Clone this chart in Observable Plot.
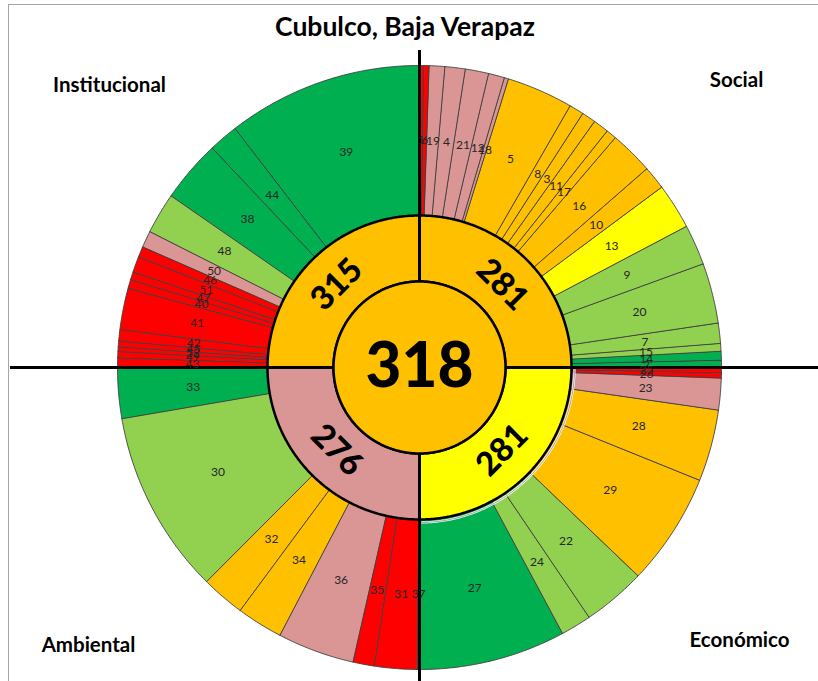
<!DOCTYPE html>
<html><head><meta charset="utf-8">
<script src="https://cdn.jsdelivr.net/npm/d3@7"></script>
<script src="https://cdn.jsdelivr.net/npm/@observablehq/plot@0.6"></script>
<style>
body{margin:0;background:#fff;overflow:hidden}
#wrap{position:relative;width:818px;height:681px;overflow:hidden;background:#fff}
#frame{position:absolute;left:8px;top:4px;width:1000px;height:1000px;border-left:1.5px solid #a6a6a6;border-top:1.5px solid #a6a6a6}
#title{position:absolute;left:0;top:10px;width:810px;text-align:center;font:bold 26.5px Lato, sans-serif;color:#000;line-height:32px}
#chart{position:absolute;left:0;top:50px}
</style></head><body>
<div id="wrap"><div id="frame"></div><div id="title">Cubulco, Baja Verapaz</div><div id="chart"></div></div>
<script>
// ---- data ----
const dimensions = ["Social", "Económico", "Ambiental", "Institucional"];
const dimensionScores = [281, 281, 276, 315];
const dimensionLevels = ["medio", "medio-alto", "bajo", "medio"];
const totalScore = 318;
const totalLevel = "medio";

const levels = ["muy bajo", "bajo", "medio", "medio-alto", "alto", "muy alto"];
const levelColors = ["#FF0000", "#DA9694", "#FFC000", "#FFFF00", "#92D050", "#00B050"];

// indicators, clockwise from the top (Social, Económico, Ambiental, Institucional)
const indicatorIds = [
  1, 6, 19, 4, 21, 12, 18, 5, 8, 3, 11, 17, 16, 10, 13, 9, 20, 7, 15, 14, 2,
  25, 26, 23, 28, 29, 22, 24, 27,
  37, 31, 35, 36, 34, 32, 30, 33,
  43, 49, 52, 45, 42, 41, 40, 47, 51, 46, 50, 48, 38, 44, 39
];
// angular width of each indicator's wedge (degrees)
const indicatorSpans = [
  0.9, 1.0, 3.0, 3.9, 4.5, 3.1, 0.8, 12.8, 2.8, 2.7, 3.0, 2.0, 8.4, 4.5, 8.8, 7.8, 11.6, 3.9, 1.5, 1.7, 1.3,
  1.1, 1.0, 6.1, 13.8, 21.7, 12.2, 5.9, 28.2,
  0.5, 8.2, 4.1, 14.8, 8.9, 8.4, 35.4, 9.7,
  1.9, 1.2, 0.9, 1.1, 2.2, 8.0, 1.7, 1.5, 3.1, 2.0, 3.2, 7.9, 12.0, 5.7, 37.6
];
const R = "muy bajo", P = "bajo", O = "medio", Y = "medio-alto", L = "alto", G = "muy alto";
const indicatorLevels = [
  R, R, P, P, P, P, P, O, O, O, O, O, O, O, Y, L, L, L, L, G, G,
  R, R, P, O, O, L, L, G,
  R, R, R, P, O, O, L, G,
  R, R, R, R, R, R, R, R, R, R, P, L, G, G, G
];

// ---- layout (relative to outer radius = 1) ----
const PX = 302, CX = 419, CY = 317, W = 818, H = 631;
const rOuter = 1, rMid = 152 / PX, rCore = 86 / PX, rLabel = 227 / PX, rDim = 117 / PX;
const rad = a => a * Math.PI / 180;

function arcPoly(id, level, a0, a1, r0, r1) {
  const n = Math.max(2, Math.ceil((a1 - a0) / 0.4));
  const pts = [];
  for (let i = 0; i <= n; i++) { const a = rad(a0 + (a1 - a0) * i / n); pts.push({id, level, x: r1 * Math.sin(a), y: r1 * Math.cos(a)}); }
  if (r0 > 0) for (let i = n; i >= 0; i--) { const a = rad(a0 + (a1 - a0) * i / n); pts.push({id, level, x: r0 * Math.sin(a), y: r0 * Math.cos(a)}); }
  return pts;
}

const ends = Array.from(d3.cumsum(indicatorSpans));
const indicators = indicatorIds.map((id, i) => ({
  id, level: indicatorLevels[i], a0: ends[i] - indicatorSpans[i], a1: ends[i]
}));
const outerPts = indicators.flatMap(d => arcPoly(d.id, d.level, d.a0, d.a1, rMid, rOuter));
const dims = dimensions.map((name, i) => ({name, score: dimensionScores[i], level: dimensionLevels[i], a0: i * 90, a1: i * 90 + 90}));
const midPts = dims.flatMap(d => arcPoly(d.name, d.level, d.a0, d.a1, rCore, rMid));
const corePts = arcPoly("core", totalLevel, 0, 360, 0, rCore);
const gapArc = arcPoly("gap", null, 90, 180, 0, 155 / PX);

const rot = a => a < 90 ? a : a < 270 ? a - 180 : a - 360;

const chart = Plot.plot({
  width: W, height: H, margin: 0,
  x: {domain: [-CX / PX, (W - CX) / PX], axis: null},
  y: {domain: [-(H - CY) / PX, CY / PX], axis: null},
  color: {domain: levels, range: levelColors},
  style: {fontFamily: "Lato, sans-serif", background: "transparent"},
  marks: [
    Plot.line(outerPts, {x: "x", y: "y", z: "id", fill: "level", stroke: "#404040", strokeWidth: 0.9, curve: "linear-closed"}),
    Plot.line(gapArc, {x: "x", y: "y", stroke: "white", strokeWidth: 2.2}),
    Plot.line(gapArc, {x: "x", y: "y", stroke: "#7f7f7f", strokeWidth: 0.8, dy: 0}),
    Plot.line(midPts, {x: "x", y: "y", z: "id", fill: "level", stroke: "black", strokeWidth: 2.5, curve: "linear-closed"}),
    Plot.ruleX([0], {y1: CY / PX, y2: -(H - CY) / PX, stroke: "black", strokeWidth: 3}),
    Plot.ruleY([0], {x1: (10 - CX) / PX, x2: (W - CX) / PX, stroke: "black", strokeWidth: 3}),
    Plot.line(corePts, {x: "x", y: "y", fill: "level", stroke: "black", strokeWidth: 2.5, curve: "linear-closed"}),
    Plot.text(indicators, {
      x: d => rLabel * Math.sin(rad((d.a0 + d.a1) / 2)),
      y: d => rLabel * Math.cos(rad((d.a0 + d.a1) / 2)),
      text: d => String(d.id), fontSize: 12, fill: "#262626"
    }),
    Plot.text(dims, {
      x: d => rDim * Math.sin(rad((d.a0 + d.a1) / 2)),
      y: d => rDim * Math.cos(rad((d.a0 + d.a1) / 2)),
      text: d => String(d.score), rotate: d => rot((d.a0 + d.a1) / 2),
      fontSize: 33, fontWeight: "900", fill: "black"
    }),
    Plot.text([totalScore], {x: 0, y: 0, text: d => String(d), fontSize: 62, fontWeight: "900", fill: "black"}),
    Plot.text([dimensions[3]], {frameAnchor: "top-left", text: d => d, dx: 109, dy: 35, textAnchor: "middle", lineAnchor: "middle", fontSize: 20.5, fontWeight: "bold"}),
    Plot.text([dimensions[0]], {frameAnchor: "top-right", text: d => d, dx: -82, dy: 30, textAnchor: "middle", lineAnchor: "middle", fontSize: 20.5, fontWeight: "bold"}),
    Plot.text([dimensions[2]], {frameAnchor: "bottom-left", text: d => d, dx: 88, dy: -36, textAnchor: "middle", lineAnchor: "middle", fontSize: 20.5, fontWeight: "bold"}),
    Plot.text([dimensions[1]], {frameAnchor: "bottom-right", text: d => d, dx: -79, dy: -41, textAnchor: "middle", lineAnchor: "middle", fontSize: 20.5, fontWeight: "bold"})
  ]
});
document.getElementById("chart").appendChild(chart);
</script>
</body></html>
